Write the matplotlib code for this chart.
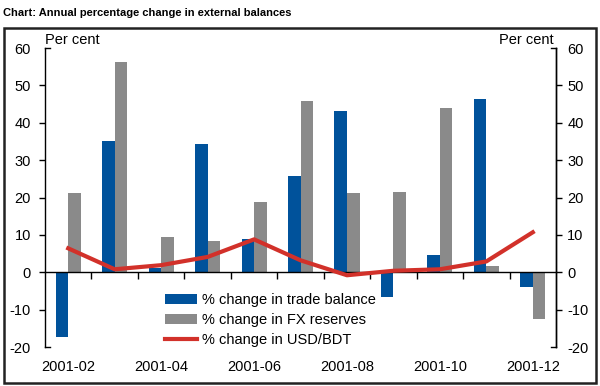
import numpy as np
import matplotlib
matplotlib.use("Agg")
import matplotlib.pyplot as plt
from matplotlib.patches import Rectangle

plt.rcParams['font.family'] = ['Liberation Sans', 'DejaVu Sans']
plt.rcParams['axes.unicode_minus'] = False

months = ['2001-02', '2001-03', '2001-04', '2001-05', '2001-06', '2001-07',
          '2001-08', '2001-09', '2001-10', '2001-11', '2001-12']
trade_balance = [-17.3, 35.1, 1.2, 34.4, 9.0, 25.7, 43.2, -6.5, 4.7, 46.4, -4.0]
fx_reserves = [21.1, 56.2, 9.5, 8.3, 18.8, 45.7, 21.3, 21.6, 43.9, 1.6, -12.6]
usd_bdt = [6.4, 0.8, 1.9, 4.1, 8.8, 3.2, -0.8, 0.4, 0.8, 2.9, 10.7]

blue = '#00529b'
grey = '#8a8a8a'
red = '#d2312a'
fs = 10.5

fig = plt.figure(figsize=(6, 3.86), dpi=100)
ax = fig.add_axes([0.075, 0.101, 0.8517, 0.7746])

x = np.arange(len(months))
w = 0.27
b1 = ax.bar(x - w / 2, trade_balance, w, color=blue, label='% change in trade balance', zorder=2)
b2 = ax.bar(x + w / 2, fx_reserves, w, color=grey, label='% change in FX reserves', zorder=2)
l1, = ax.plot(x, usd_bdt, color=red, lw=3, label='% change in USD/BDT', zorder=3)

ax.set_xlim(-0.5, len(months) - 0.5)
ax.set_ylim(-20, 60)

# spines
ax.spines['top'].set_visible(False)
ax.spines['bottom'].set_position(('data', 0))
ax.spines['bottom'].set_linewidth(1.0)
ax.spines['left'].set_linewidth(1.0)
ax.spines['right'].set_linewidth(1.0)

# x ticks: marks between categories on the zero line, labels at the bottom
ax.set_xticks(x[::2])
ax.set_xticklabels(months[::2], fontsize=fs)
ax.set_xticks(x[:-1] + 0.5, minor=True)
ax.tick_params(axis='x', which='major', length=0, pad=63)
ax.tick_params(axis='x', which='minor', length=5, width=1.0, direction='out')

# left y axis
ax.set_yticks(np.arange(-20, 61, 10))
ax.tick_params(axis='y', which='major', length=4, width=1.0, direction='out', labelsize=fs, pad=6)
ax2 = ax.twinx()
ax2.set_ylim(-20, 60)
ax2.set_yticks(np.arange(-20, 61, 10))
ax2.tick_params(axis='y', length=4, width=1.0, direction='out', labelsize=fs, pad=4)
for s in ['top', 'bottom', 'left']:
    ax2.spines[s].set_visible(False)
ax2.spines['right'].set_linewidth(1.0)

# hide end ticks and draw them pointing inward
for t in (ax.yaxis.get_major_ticks()[0], ax.yaxis.get_major_ticks()[-1]):
    t.tick1line.set_visible(False)
for t in (ax2.yaxis.get_major_ticks()[0], ax2.yaxis.get_major_ticks()[-1]):
    t.tick2line.set_visible(False)
yt = ax.get_yaxis_transform()
for yv in (-20, 60):
    ax.plot([0, 0.01], [yv, yv], color='black', lw=1.0, transform=yt, clip_on=False)
    ax.plot([0.99, 1], [yv, yv], color='black', lw=1.0, transform=yt, clip_on=False)

ax.text(0.0, 1.005, 'Per cent', transform=ax.transAxes, fontsize=fs, ha='left', va='bottom')
ax.text(0.995, 1.005, 'Per cent', transform=ax.transAxes, fontsize=fs, ha='right', va='bottom')

leg = ax.legend([b1, b2, l1], [b1.get_label(), b2.get_label(), l1.get_label()],
                loc='upper left', bbox_to_anchor=(0.235, 0.18), frameon=False,
                fontsize=fs, handlelength=2.2, handletextpad=0.35, labelspacing=0.42,
                borderaxespad=0, borderpad=0)

fig.text(0.005, 0.966, 'Chart: Annual percentage change in external balances',
         fontsize=8, fontweight='bold', ha='left', va='center')
fig.patches.append(Rectangle((0.006, 0.008), 0.988, 0.92, transform=fig.transFigure,
                             fill=False, edgecolor='#222222', lw=1.8))

fig.savefig('out.png', dpi=100)
